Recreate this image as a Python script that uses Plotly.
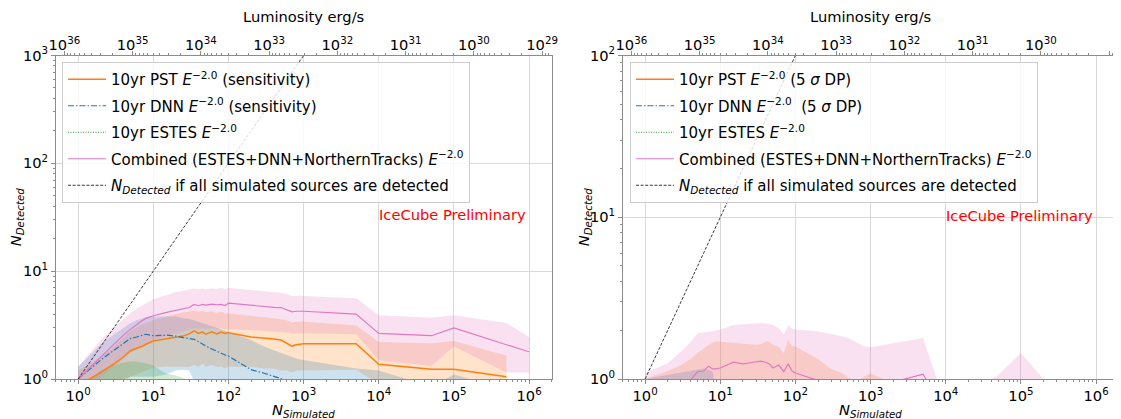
import plotly.graph_objects as go

# ---------------- data ----------------
N_SIM = [1, 2, 3, 4, 5, 6, 7, 8, 9, 10, 15, 20, 25, 30, 35, 40, 45, 50, 60, 70, 80, 90, 100,
         200, 300, 400, 500, 600, 700, 800, 900, 1000, 5000, 10000, 50000, 100000, 500000, 1000000]

# Left panel: sensitivity
SENS_PST_MID = [0.87, 1.15, 1.38, 1.6, 1.84, 1.92, 2.0, 2.1, 2.18, 2.25, 2.36, 2.43, 2.5, 2.62, 2.8, 2.65, 2.74, 2.6, 2.74, 2.62, 2.72, 2.65, 2.68,
                2.45, 2.4, 2.35, 2.3, 2.15, 2.02, 2.08, 2.1, 2.12, 2.12, 1.37, 1.23, 1.23, 1.05, None]
SENS_PST_HI = [1.2, 1.6, 2.0, 2.4, 2.8, 3.0, 3.2, 3.3, 3.4, 3.5, 3.8, 4.0, 4.15, 4.2, 4.35, 4.2, 4.3, 4.15, 4.25, 4.1, 4.2, 4.05, 4.05,
               3.85, 3.75, 3.7, 3.6, 3.5, 3.35, 3.4, 3.4, 3.4, 3.15, 2.2, 2.15, 2.25, 1.65, None]
SENS_PST_LO = [0.5, 0.7, 0.85, 0.95, 1.05, 1.1, 1.15, 1.2, 1.25, 1.28, 1.3, 1.3, 1.3, 1.3, 1.35, 1.3, 1.4, 1.3, 1.35, 1.3, 1.3, 1.25, 1.3,
               1.3, 1.25, 1.25, 1.2, 1.2, 1.15, 1.2, 1.2, 1.2, 1.22, 0.9, 0.8, 0.9, 0.7, None]

SENS_DNN_MID = [1.0, 1.5, 1.85, 2.15, 2.38, 2.45, 2.52, 2.6, 2.55, 2.52, 2.55, 2.5, 2.42, 2.38, 2.33, 2.22, 2.1, 2.02, 1.9, 1.8, 1.72, 1.67, 1.63,
                1.22, 1.13, 1.06, 1.0, 0.96, 0.93, 0.9, 0.88, 0.86, 0.6, 0.5, 0.4, 0.45, 0.3, None]
SENS_DNN_HI = [1.3, 2.1, 2.6, 3.0, 3.3, 3.5, 3.65, 3.75, 3.8, 3.8, 3.8, 3.8, 3.65, 3.6, 3.5, 3.4, 3.3, 3.2, 3.1, 3.0, 2.9, 2.8, 2.75,
               2.3, 2.0, 1.85, 1.75, 1.65, 1.6, 1.55, 1.52, 1.5, 1.25, 1.2, 0.85, 1.1, 0.8, None]
SENS_DNN_LO = [0.7, 0.85, 0.95, 1.0, 1.05, 1.05, 1.05, 1.05, 1.05, 1.05, 1.1, 1.2, 1.22, 1.2, 0.95, 0.9, 0.9, 0.85, 0.85, 0.8, 0.8, 0.8, 0.8,
               0.7, 0.65, 0.6, 0.6, 0.55, 0.55, 0.5, 0.5, 0.5, 0.4, 0.35, 0.3, 0.3, 0.2, None]

SENS_ESTES_MID = [0.55, 0.7, 0.78, 0.82, 0.85, 0.86, 0.86, 0.85, 0.84, 0.83, 0.75, 0.7, 0.65, 0.6, 0.58, 0.56, 0.55, 0.54, 0.52, 0.5, 0.5, 0.48, 0.47,
                  0.4, 0.37, 0.35, 0.33, 0.32, 0.31, 0.3, 0.3, 0.3, 0.25, 0.22, 0.2, 0.2, 0.18, None]
SENS_ESTES_HI = [0.8, 1.2, 1.35, 1.42, 1.45, 1.45, 1.42, 1.4, 1.37, 1.33, 1.12, 1.08, 1.02, 0.95, 0.9, 0.88, 0.85, 0.83, 0.8, 0.78, 0.75, 0.72, 0.7,
                 0.6, 0.55, 0.5, 0.5, 0.48, 0.46, 0.45, 0.45, 0.44, 0.4, 0.35, 0.32, 0.3, 0.28, None]
SENS_ESTES_LO = [0.3, 0.35, 0.38, 0.4, 0.4, 0.4, 0.4, 0.4, 0.39, 0.38, 0.35, 0.33, 0.3, 0.28, 0.27, 0.26, 0.25, 0.25, 0.24, 0.23, 0.22, 0.22, 0.21,
                 0.18, 0.17, 0.16, 0.15, 0.15, 0.14, 0.14, 0.14, 0.14, 0.12, 0.11, 0.1, 0.1, 0.09, None]

SENS_COMB_MID = [1.0, 1.6, 2.1, 2.55, 2.9, 3.2, 3.45, 3.65, 3.78, 3.86, 4.15, 4.35, 4.45, 4.6, 4.92, 4.78, 4.92, 4.85, 4.95, 4.88, 4.92, 4.8, 5.05,
                 4.8, 4.65, 4.62, 4.6, 4.4, 4.2, 4.25, 4.25, 4.25, 4.0, 2.65, 2.52, 2.98, 2.08, 1.79]
SENS_COMB_HI = [1.3, 2.3, 3.0, 3.6, 4.1, 4.5, 4.8, 5.1, 5.3, 5.5, 6.0, 6.4, 6.6, 6.8, 6.9, 6.85, 6.9, 6.8, 6.9, 6.85, 7.0, 6.8, 7.0,
                6.7, 6.5, 6.4, 6.3, 6.1, 5.9, 5.9, 5.95, 5.9, 5.6, 3.9, 3.7, 3.9, 3.3, 2.45]
SENS_COMB_LO = [0.7, 1.05, 1.3, 1.55, 1.75, 1.9, 2.0, 2.1, 2.2, 2.3, 2.5, 2.65, 2.75, 2.85, 2.95, 2.9, 2.95, 2.9, 2.95, 2.9, 2.95, 2.9, 2.9,
                2.85, 2.8, 2.75, 2.75, 2.7, 2.65, 2.65, 2.65, 2.65, 2.6, 1.5, 1.32, 2.0, 1.15, 1.15]

# Right panel: 5 sigma discovery potential
DP_PST_MID = [0.6, 0.65, 0.7, 0.72, 0.75, 0.78, 0.8, 0.8, 0.8, 0.8, 0.82, 0.82, 0.82, 0.82, 0.83, 0.82, 0.82, 0.8, 0.8, 0.78, 0.8, 0.78, 0.78,
              0.7, 0.65, 0.62, 0.6, 0.58, 0.56, 0.57, 0.58, 0.58, 0.5, 0.4, 0.4, 0.4, 0.35, None]
DP_PST_HI = [1.0, 1.12, 1.22, 1.33, 1.45, 1.55, 1.62, 1.68, 1.71, 1.7, 1.67, 1.66, 1.64, 1.63, 1.64, 1.7, 1.71, 1.62, 1.58, 1.45, 1.75, 1.6, 1.59,
             1.33, 1.15, 1.1, 1.03, 0.98, 0.98, 1.03, 1.06, 1.08, 0.8, 0.6, 0.6, 0.6, 0.5, None]
DP_PST_LO = [0.35, 0.38, 0.4, 0.42, 0.44, 0.45, 0.46, 0.46, 0.46, 0.46, 0.47, 0.47, 0.47, 0.47, 0.48, 0.47, 0.47, 0.46, 0.46, 0.45, 0.46, 0.45, 0.45,
             0.4, 0.37, 0.35, 0.34, 0.33, 0.32, 0.32, 0.33, 0.33, 0.28, 0.22, 0.22, 0.22, 0.2, None]

DP_DNN_MID = [0.7, 0.75, 0.78, 0.8, 0.8, 0.8, 0.78, 0.75, 0.45, 0.4, 0.36, 0.33, 0.3, 0.28, 0.27, 0.26, 0.25, 0.24, 0.22, 0.21, 0.2, 0.19, 0.18,
              0.15, 0.13, 0.12, 0.11, 0.1, 0.1, 0.1, 0.1, 0.1, 0.08, 0.07, 0.06, 0.06, 0.05, None]
DP_DNN_HI = [1.0, 1.06, 1.1, 1.13, 1.15, 1.16, 1.14, 1.1, 0.6, 0.55, 0.5, 0.46, 0.43, 0.4, 0.38, 0.36, 0.35, 0.34, 0.32, 0.3, 0.29, 0.28, 0.27,
             0.22, 0.2, 0.18, 0.17, 0.16, 0.15, 0.15, 0.15, 0.15, 0.12, 0.1, 0.09, 0.09, 0.08, None]
DP_DNN_LO = [0.4, 0.42, 0.44, 0.45, 0.45, 0.45, 0.44, 0.42, 0.3, 0.28, 0.25, 0.22, 0.2, 0.19, 0.18, 0.17, 0.16, 0.15, 0.14, 0.13, 0.12, 0.12, 0.11,
             0.09, 0.08, 0.07, 0.07, 0.06, 0.06, 0.06, 0.06, 0.06, 0.05, 0.04, 0.04, 0.04, 0.03, None]

DP_ESTES_MID = [0.3, 0.4, 0.45, 0.48, 0.5, 0.5, 0.5, 0.48, 0.47, 0.46, 0.4, 0.36, 0.33, 0.3, 0.28, 0.27, 0.26, 0.25, 0.24, 0.23, 0.22, 0.21, 0.2,
                0.16, 0.14, 0.13, 0.12, 0.12, 0.11, 0.11, 0.11, 0.1, 0.08, 0.07, 0.06, 0.06, 0.05, None]
DP_ESTES_HI = [0.5, 0.65, 0.72, 0.76, 0.78, 0.78, 0.77, 0.75, 0.73, 0.7, 0.6, 0.55, 0.5, 0.46, 0.43, 0.41, 0.4, 0.38, 0.36, 0.34, 0.33, 0.32, 0.3,
               0.25, 0.22, 0.2, 0.19, 0.18, 0.17, 0.17, 0.17, 0.16, 0.13, 0.11, 0.1, 0.1, 0.08, None]
DP_ESTES_LO = [0.15, 0.2, 0.22, 0.24, 0.25, 0.25, 0.25, 0.24, 0.23, 0.22, 0.2, 0.18, 0.16, 0.15, 0.14, 0.13, 0.13, 0.12, 0.12, 0.11, 0.11, 0.1, 0.1,
               0.08, 0.07, 0.06, 0.06, 0.06, 0.05, 0.05, 0.05, 0.05, 0.04, 0.03, 0.03, 0.03, 0.02, None]

DP_COMB_MID = [0.7, 0.8, 0.9, 0.98, 1.11, 1.12, 1.2, 1.15, 1.16, 1.17, 1.27, 1.24, 1.26, 1.27, 1.29, 1.27, 1.24, 1.17, 1.22, 1.11, 1.24, 1.12, 1.09,
               0.98, 0.95, 0.92, 0.9, 0.89, 0.88, 0.88, 0.88, 0.88, 1.07, 0.6, 0.6, 0.6, 0.5, 0.5]
DP_COMB_HI = [1.09, 1.25, 1.48, 1.68, 1.92, 1.95, 1.96, 1.97, 2.0, 2.02, 2.16, 2.18, 2.2, 2.21, 2.22, 2.2, 2.18, 2.16, 2.07, 1.88, 2.16, 2.05, 2.02,
              1.97, 1.9, 1.85, 1.8, 1.72, 1.66, 1.6, 1.58, 1.57, 1.79, 0.68, 1.06, 1.45, 0.61, 0.5]
DP_COMB_LO = [0.45, 0.5, 0.55, 0.6, 0.62, 0.63, 0.65, 0.64, 0.64, 0.65, 0.68, 0.67, 0.68, 0.68, 0.69, 0.68, 0.67, 0.64, 0.66, 0.62, 0.66, 0.62, 0.6,
              0.55, 0.52, 0.5, 0.5, 0.49, 0.48, 0.48, 0.48, 0.48, 0.55, 0.35, 0.35, 0.35, 0.3, 0.3]

# identity line: N_detected if all simulated sources are detected
IDENTITY_LEFT = [1, 1000]
IDENTITY_RIGHT = [1, 100]

# ticks
N_TICKS = [1, 10, 100, 1000, 10000, 100000, 1000000]
N_TICK_LABELS = ["10<sup>0</sup>", "10<sup>1</sup>", "10<sup>2</sup>", "10<sup>3</sup>",
                 "10<sup>4</sup>", "10<sup>5</sup>", "10<sup>6</sup>"]
ND_TICKS_LEFT = [1, 10, 100, 1000]
ND_TICK_LABELS_LEFT = ["10<sup>0</sup>", "10<sup>1</sup>", "10<sup>2</sup>", "10<sup>3</sup>"]
ND_TICKS_RIGHT = [1, 10, 100]
ND_TICK_LABELS_RIGHT = ["10<sup>0</sup>", "10<sup>1</sup>", "10<sup>2</sup>"]
LUM_TICKS = [1e36, 1e35, 1e34, 1e33, 1e32, 1e31, 1e30, 1e29]
LUM_TICK_LABELS = ["10<sup>36</sup>", "10<sup>35</sup>", "10<sup>34</sup>", "10<sup>33</sup>",
                   "10<sup>32</sup>", "10<sup>31</sup>", "10<sup>30</sup>", "10<sup>29</sup>"]

LEGEND_LEFT = [
    "10yr PST <i>E</i><sup>−2.0</sup> (sensitivity)",
    "10yr DNN <i>E</i><sup>−2.0</sup> (sensitivity)",
    "10yr ESTES <i>E</i><sup>−2.0</sup>",
    "Combined (ESTES+DNN+NorthernTracks) <i>E</i><sup>−2.0</sup>",
    "<i>N<sub>Detected</sub></i> if all simulated sources are detected",
]
LEGEND_RIGHT = [
    "10yr PST <i>E</i><sup>−2.0</sup> (5 <i>σ</i> DP)",
    "10yr DNN <i>E</i><sup>−2.0</sup>&nbsp; (5 <i>σ</i> DP)",
    "10yr ESTES <i>E</i><sup>−2.0</sup>",
    "Combined (ESTES+DNN+NorthernTracks) <i>E</i><sup>−2.0</sup>",
    "<i>N<sub>Detected</sub></i> if all simulated sources are detected",
]

# ---------------- style ----------------
PAGE_W, PAGE_H = 1121, 419
OFF = 8                      # default body margin of the html page
W, H = PAGE_W - OFF, PAGE_H - OFF
FONT = "DejaVu Sans"
FS = 14.67
C_ORANGE = "#ff7f0e"
C_BLUE = "#1f77b4"
C_GREEN = "#2ca02c"
C_PINK = "#e377c2"
FILL = {"o": "rgba(255,127,14,0.22)", "b": "rgba(31,119,180,0.22)",
        "g": "rgba(44,160,44,0.22)", "p": "rgba(227,119,194,0.22)"}
SPINE = "#8c8c8c"
GRID = "#d9d9d9"


def px(xp):
    return (xp - OFF) / W


def py(yp):
    return 1 - (yp - OFF) / H


fig = go.Figure()


def clean(x, a, b):
    xs, aa, bb = [], [], []
    for xi, ai, bi in zip(x, a, b):
        if ai is not None and bi is not None:
            xs.append(xi); aa.append(ai); bb.append(bi)
    return xs, aa, bb


def add_band(x, lo, hi, fillcolor, xa, ya):
    xs, l, h = clean(x, lo, hi)
    fig.add_trace(go.Scatter(x=xs, y=l, mode="lines", line=dict(width=0, color=fillcolor),
                             showlegend=False, hoverinfo="skip", xaxis=xa, yaxis=ya))
    fig.add_trace(go.Scatter(x=xs, y=h, mode="lines", line=dict(width=0, color=fillcolor),
                             fill="tonexty", fillcolor=fillcolor,
                             showlegend=False, hoverinfo="skip", xaxis=xa, yaxis=ya))


def add_line(x, y, name, color, dash, width, xa, ya, legend, group):
    xs, yy, _ = clean(x, y, y)
    fig.add_trace(go.Scatter(x=xs, y=yy, mode="lines", name=name,
                             line=dict(color=color, dash=dash, width=width),
                             legend=legend, legendgroup=group, xaxis=xa, yaxis=ya))


panels = [
    ("x", "y", "legend", IDENTITY_LEFT, LEGEND_LEFT,
     (SENS_PST_MID, SENS_PST_LO, SENS_PST_HI),
     (SENS_DNN_MID, SENS_DNN_LO, SENS_DNN_HI),
     (SENS_ESTES_MID, SENS_ESTES_LO, SENS_ESTES_HI),
     (SENS_COMB_MID, SENS_COMB_LO, SENS_COMB_HI)),
    ("x2", "y2", "legend2", IDENTITY_RIGHT, LEGEND_RIGHT,
     (DP_PST_MID, DP_PST_LO, DP_PST_HI),
     (DP_DNN_MID, DP_DNN_LO, DP_DNN_HI),
     (DP_ESTES_MID, DP_ESTES_LO, DP_ESTES_HI),
     (DP_COMB_MID, DP_COMB_LO, DP_COMB_HI)),
]

for k, (xa, ya, leg, ident, names, pst, dnn, estes, comb) in enumerate(panels):
    add_band(N_SIM, pst[1], pst[2], FILL["o"], xa, ya)
    add_band(N_SIM, dnn[1], dnn[2], FILL["b"], xa, ya)
    add_band(N_SIM, estes[1], estes[2], FILL["g"], xa, ya)
    add_band(N_SIM, comb[1], comb[2], FILL["p"], xa, ya)
    add_line(N_SIM, pst[0], names[0], C_ORANGE, "solid", 1.5, xa, ya, leg, f"g{k}0")
    add_line(N_SIM, dnn[0], names[1], C_BLUE, "6px,2px,1.5px,2px", 1.2, xa, ya, leg, f"g{k}1")
    add_line(N_SIM, estes[0], names[2], C_GREEN, "1px,1.5px", 1.0, xa, ya, leg, f"g{k}2")
    add_line(N_SIM, comb[0], names[3], C_PINK, "solid", 1.2, xa, ya, leg, f"g{k}3")
    add_line(ident, ident, names[4], "#222222", "3px,1.6px", 0.9, xa, ya, leg, f"g{k}4")
    # invisible carrier for the luminosity (top) axis
    fig.add_trace(go.Scatter(x=LUM_TICKS, y=[ident[0]] * len(LUM_TICKS), mode="markers",
                             marker=dict(opacity=0), showlegend=False, hoverinfo="skip",
                             xaxis="x3" if k == 0 else "x4", yaxis=ya))

# ---------------- layout ----------------
LX0, LX1 = px(55.5), px(551.7)
RX0, RX1 = px(622.5), px(1118.7)
Y0, Y1 = py(379), py(55.5)

tickfont = dict(family=FONT, size=FS, color="#000")
minor = dict(ticks="outside", ticklen=2, tickcolor=SPINE, dtick="D1", showgrid=False)


def xaxis(domain, anchor):
    return dict(domain=domain, anchor=anchor, type="log", range=[-0.301, 6.301], automargin=False,
                tickmode="array", tickvals=N_TICKS, ticktext=N_TICK_LABELS,
                showgrid=True, gridcolor=GRID, gridwidth=1, zeroline=False,
                showline=True, linecolor=SPINE, linewidth=1, mirror=True,
                ticks="outside", ticklen=3.5, tickcolor=SPINE, tickfont=tickfont,
                minor=minor)


def yaxis(anchor, top, vals, labels):
    return dict(domain=[Y0, Y1], anchor=anchor, type="log", range=[0, top], automargin=False,
                tickmode="array", tickvals=vals, ticktext=labels,
                showgrid=True, gridcolor=GRID, gridwidth=1, zeroline=False,
                showline=True, linecolor=SPINE, linewidth=1, mirror=True,
                ticks="outside", ticklen=3.5, tickcolor=SPINE, tickfont=tickfont,
                minor=minor)


def topaxis(over, anchor):
    return dict(overlaying=over, anchor=anchor, side="top", type="log", range=[36.13, 28.86],
                automargin=False, ticklabelstandoff=-5,
                tickmode="array", tickvals=LUM_TICKS, ticktext=LUM_TICK_LABELS,
                showgrid=False, zeroline=False, showline=False,
                ticks="outside", ticklen=3.5, tickcolor=SPINE, tickfont=tickfont,
                minor=minor)


legend_common = dict(xanchor="left", yanchor="top", bgcolor="rgba(255,255,255,0.8)",
                     bordercolor="#cccccc", borderwidth=1, tracegroupgap=4, itemwidth=38,
                     font=dict(family=FONT, size=15, color="#000"))

annotations = []
for cx, ytitle_x in [((LX0 + LX1) / 2, px(16)), ((RX0 + RX1) / 2, px(584))]:
    annotations.append(dict(text="Luminosity erg/s", x=cx, y=py(17), xref="paper", yref="paper",
                            showarrow=False, xanchor="center", yanchor="middle",
                            font=dict(family=FONT, size=FS, color="#000")))
    annotations.append(dict(text="<i>N<sub>Simulated</sub></i>", x=cx, y=py(410), xref="paper",
                            yref="paper", showarrow=False, xanchor="center", yanchor="middle",
                            font=dict(family=FONT, size=FS, color="#000")))
    annotations.append(dict(text="<i>N<sub>Detected</sub></i>", x=ytitle_x, y=(Y0 + Y1) / 2,
                            xref="paper", yref="paper", showarrow=False, textangle=-90,
                            xanchor="center", yanchor="middle",
                            font=dict(family=FONT, size=FS, color="#000")))
annotations.append(dict(text="IceCube Preliminary", x=px(452.5), y=py(214.5), xref="paper", yref="paper",
                        showarrow=False, xanchor="center", yanchor="middle",
                        font=dict(family=FONT, size=FS, color="red")))
annotations.append(dict(text="IceCube Preliminary", x=px(1019.5), y=py(215.3), xref="paper", yref="paper",
                        showarrow=False, xanchor="center", yanchor="middle",
                        font=dict(family=FONT, size=FS, color="red")))

fig.update_layout(
    width=W, height=H, margin=dict(l=0, r=0, t=0, b=0, autoexpand=False),
    paper_bgcolor="white", plot_bgcolor="white",
    font=dict(family=FONT, size=FS, color="#000"),
    xaxis=xaxis([LX0, LX1], "y"),
    yaxis=yaxis("x", 3, ND_TICKS_LEFT, ND_TICK_LABELS_LEFT),
    xaxis2=xaxis([RX0, RX1], "y2"),
    yaxis2=yaxis("x2", 2, ND_TICKS_RIGHT, ND_TICK_LABELS_RIGHT),
    xaxis3=topaxis("x", "y"),
    xaxis4=topaxis("x2", "y2"),
    legend=dict(x=px(62), y=py(62), **legend_common),
    legend2=dict(x=px(630), y=py(62), **legend_common),
    annotations=annotations,
    hovermode=False,
)

fig.write_html("out.html")
